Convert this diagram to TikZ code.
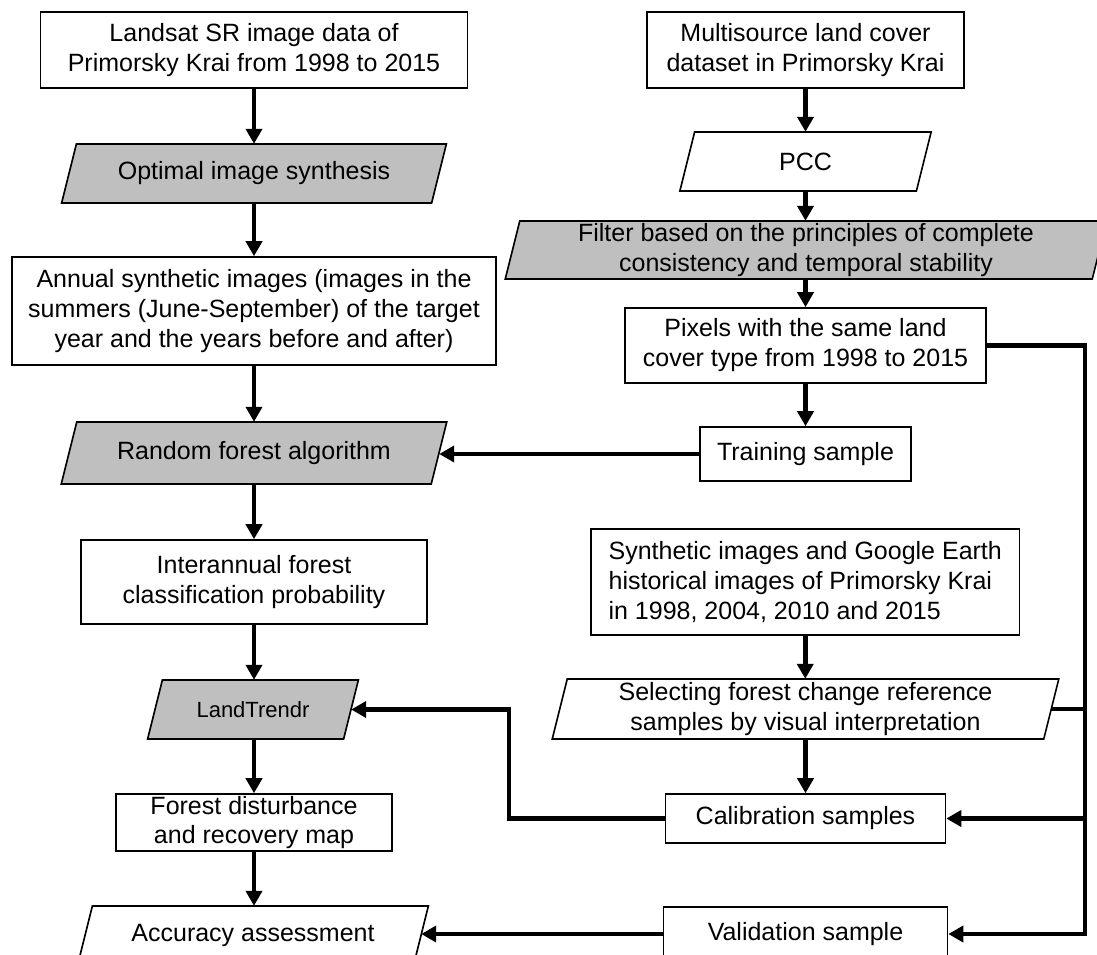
\documentclass[tikz,border=0pt]{standalone}
\usepackage{fontspec}
\setmainfont{Liberation Sans}
\usetikzlibrary{arrows.meta,calc}
\tikzset{
 box/.style={draw, line width=1.6pt, fill=white, inner sep=0pt, align=center, font=\fontsize{25}{30}\selectfont},
 ptext/.style={inner sep=0pt, align=center, font=\fontsize{25}{30}\selectfont},
 pgray/.style={draw, line width=1.6pt, fill=black!25},
 pwhite/.style={draw, line width=1.6pt, fill=white},
 arr/.style={line width=4.5pt, -{Triangle[length=15pt,width=16pt]}},
 conn/.style={line width=4.5pt},
}
% #1 style, #2 name, #3 cx, #4 cy, #5 mid width, #6 height, #7 text
\newcommand{\paranode}[7]{%
  \draw[#1] ({#3-#5/2+#6/8},{#4-#6/2}) -- ({#3+#5/2+#6/8},{#4-#6/2}) -- ({#3+#5/2-#6/8},{#4+#6/2}) -- ({#3-#5/2-#6/8},{#4+#6/2}) -- cycle;
  \node[ptext, minimum width=#5, minimum height=#6] (#2) at (#3,#4) {#7};}
\begin{document}
\begin{tikzpicture}[x=1pt,y=-1pt]
\useasboundingbox (0,0) rectangle (1097,954);
\fill[white] (0,0) rectangle (1097,954);
% left column
\node[box, minimum width=427, minimum height=76] (l1) at (254,50) {Landsat SR image data of\\Primorsky Krai from 1998 to 2015};
\paranode{pgray}{opt}{254}{173.5}{370}{59}{Optimal image synthesis}
\node[box, minimum width=484, minimum height=108] (ann) at (254,311) {Annual synthetic images (images in the\\summers (June-September) of the target\\year and the years before and after)};
\paranode{pgray}{rf}{254}{453}{370}{62}{Random forest algorithm}
\node[box, minimum width=346, minimum height=84] (inter) at (254,582) {Interannual forest\\classification probability};
\paranode{pgray}{lt}{253}{709.5}{196}{59}{\fontsize{22}{26}\selectfont LandTrendr}
\node[box, minimum width=276, minimum height=57, font=\fontsize{25}{29}\selectfont] (fd) at (254,822.5) {Forest disturbance\\and recovery map};
\paranode{pwhite}{acc}{253}{935.5}{336}{59}{Accuracy assessment}
% right column
\node[box, minimum width=317, minimum height=76] (ms) at (805.5,50) {Multisource land cover\\dataset in Primorsky Krai};
\paranode{pwhite}{pcc}{805.5}{161.5}{236.5}{59}{PCC}
\paranode{pgray}{filt}{806}{250}{587}{58}{Filter based on the principles of complete\\consistency and temporal stability}
\node[box, minimum width=361, minimum height=75] (pix) at (805.5,345.5) {Pixels with the same land\\cover type from 1998 to 2015};
\node[box, minimum width=211, minimum height=54] (tr) at (805.5,454) {Training sample};
\node[box, align=left, minimum width=428.5, minimum height=106] (syn) at (805.25,582) {Synthetic images and Google Earth\\historical images of Primorsky Krai\\in 1998, 2004, 2010 and 2015};
\paranode{pwhite}{sel}{805.5}{709}{491.5}{60}{Selecting forest change reference\\samples by visual interpretation}
\node[box, minimum width=280, minimum height=49] (cal) at (805.5,818.5) {Calibration samples};
\node[box, minimum width=284, minimum height=54] (val) at (805.5,934) {Validation sample};
% connectors left
\draw[arr] (l1.south) -- (opt.north);
\draw[arr] (opt.south) -- (ann.north);
\draw[arr] (ann.south) -- (rf.north);
\draw[arr] (rf.south) -- (inter.north);
\draw[arr] (inter.south) -- (lt.north -| inter.south);
\draw[arr] (lt.south -| fd.north) -- (fd.north);
\draw[arr] (fd.south) -- (acc.north -| fd.south);
% connectors right
\draw[arr] (ms.south) -- (pcc.north);
\draw[arr] (pcc.south) -- (filt.north -| pcc.south);
\draw[arr] (filt.south -| pix.north) -- (pix.north);
\draw[arr] (pix.south) -- (tr.north);
\draw[arr] (tr.west) -- (tr.west -| rf.east);
\draw[arr] (syn.south) -- (sel.north -| syn.south);
\draw[arr] (sel.south -| cal.north) -- (cal.north);
\coordinate (j1) at (509,709.5);
\draw[arr] (cal.west) -| (j1) -- (lt.east);
\coordinate (sp1) at (1085,345.5);
\coordinate (sp2) at (1085,934);
\draw[arr] (pix.east) -- (sp1) -- (sp2) -- (val.east);
\draw[arr] (cal.east -| sp1) -- (cal.east);
\draw[conn] (sel.east) -- (sel.east -| sp1);
\draw[arr] (val.west) -- (val.west -| acc.east);
\end{tikzpicture}
\end{document}
